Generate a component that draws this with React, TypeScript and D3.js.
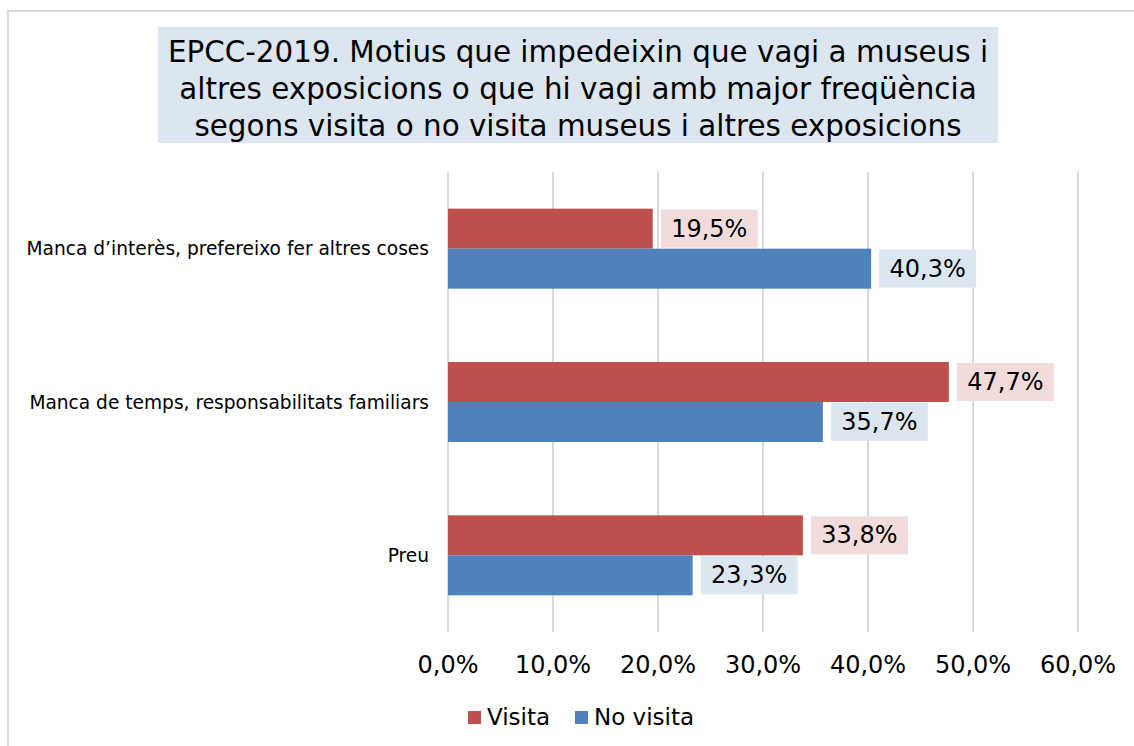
import React from "react";
import * as d3 from "d3";

const categories = [
  "Manca d\u2019interès, prefereixo fer altres coses",
  "Manca de temps, responsabilitats familiars",
  "Preu",
];
const visita = [19.5, 47.7, 33.8];
const noVisita = [40.3, 35.7, 23.3];
const seriesNames = ["Visita", "No visita"];
const tickValues = [0, 10, 20, 30, 40, 50, 60];
const titleLines = [
  "EPCC-2019. Motius que impedeixin que vagi a museus i",
  "altres exposicions o que hi vagi amb major freqüència",
  "segons visita o no visita museus i altres exposicions",
];

const W = 1134;
const H = 746;
const FONT = "'DejaVu Sans', Verdana, sans-serif";
const barColors = ["#C0504D", "#4F81BD"];
const labelBg = ["#F2DCDB", "#DCE6F1"];

const fmt = (v: number) => v.toFixed(1).replace(".", ",") + "%";

export default function App() {
  const x = d3.scaleLinear().domain([0, 60]).range([448, 1078]);
  const y = d3.scaleBand<string>().domain(categories).range([172, 632]).padding(0);
  const sub = d3.scaleBand<string>().domain(seriesNames).range([-40, 40]).padding(0);
  const seriesVals = [visita, noVisita];

  return (
    <svg
      width={W}
      height={H}
      style={{ position: "absolute", left: 0, top: 0, background: "#fff" }}
      fontFamily={FONT}
    >
      <rect x={8} y={11} width={1140} height={760} fill="#fff" stroke="#D9D9D9" strokeWidth={2} />
      {/* title */}
      <rect x={158} y={27} width={840} height={116} fill="#DCE6F1" />
      {titleLines.map((t, i) => (
        <text key={i} x={578} y={62 + i * 37} textAnchor="middle" fontSize={29.4} fill="#000">
          {t}
        </text>
      ))}
      {/* gridlines */}
      {tickValues.map((t) => (
        <line key={t} x1={x(t)} x2={x(t)} y1={172} y2={632} stroke="#D9D9D9" strokeWidth={2} />
      ))}
      {/* tick labels */}
      {tickValues.map((t) => (
        <text key={"l" + t} x={x(t)} y={673} textAnchor="middle" fontSize={24} fill="#000">
          {fmt(t)}
        </text>
      ))}
      {/* category labels */}
      {categories.map((c) => (
        <text
          key={c}
          x={429}
          y={(y(c) as number) + y.bandwidth() / 2}
          textAnchor="end"
          dominantBaseline="central"
          fontSize={18.6}
          fill="#000"
        >
          {c}
        </text>
      ))}
      {/* bars */}
      {categories.map((c, ci) => {
        const center = (y(c) as number) + y.bandwidth() / 2;
        return seriesNames.map((s, si) => {
          const v = seriesVals[si][ci];
          const by = center + (sub(s) as number);
          const bh = sub.bandwidth();
          const xe = x(v);
          return (
            <g key={c + s}>
              <rect x={x(0)} y={by} width={xe - x(0)} height={bh} fill={barColors[si]} />
              <rect x={xe + 8} y={by + 1} width={97} height={38} fill={labelBg[si]} />
              <text
                x={xe + 8 + 48.5}
                y={by + 20}
                textAnchor="middle"
                dominantBaseline="central"
                fontSize={24}
                fill="#000"
              >
                {fmt(v)}
              </text>
            </g>
          );
        });
      })}
      {/* legend */}
      {seriesNames.map((s, i) => {
        const lx = i === 0 ? 468 : 575;
        return (
          <g key={s}>
            <rect x={lx} y={711} width={13} height={13} fill={barColors[i]} />
            <text x={lx + 19} y={725} fontSize={23} fill="#000">
              {s}
            </text>
          </g>
        );
      })}
    </svg>
  );
}
